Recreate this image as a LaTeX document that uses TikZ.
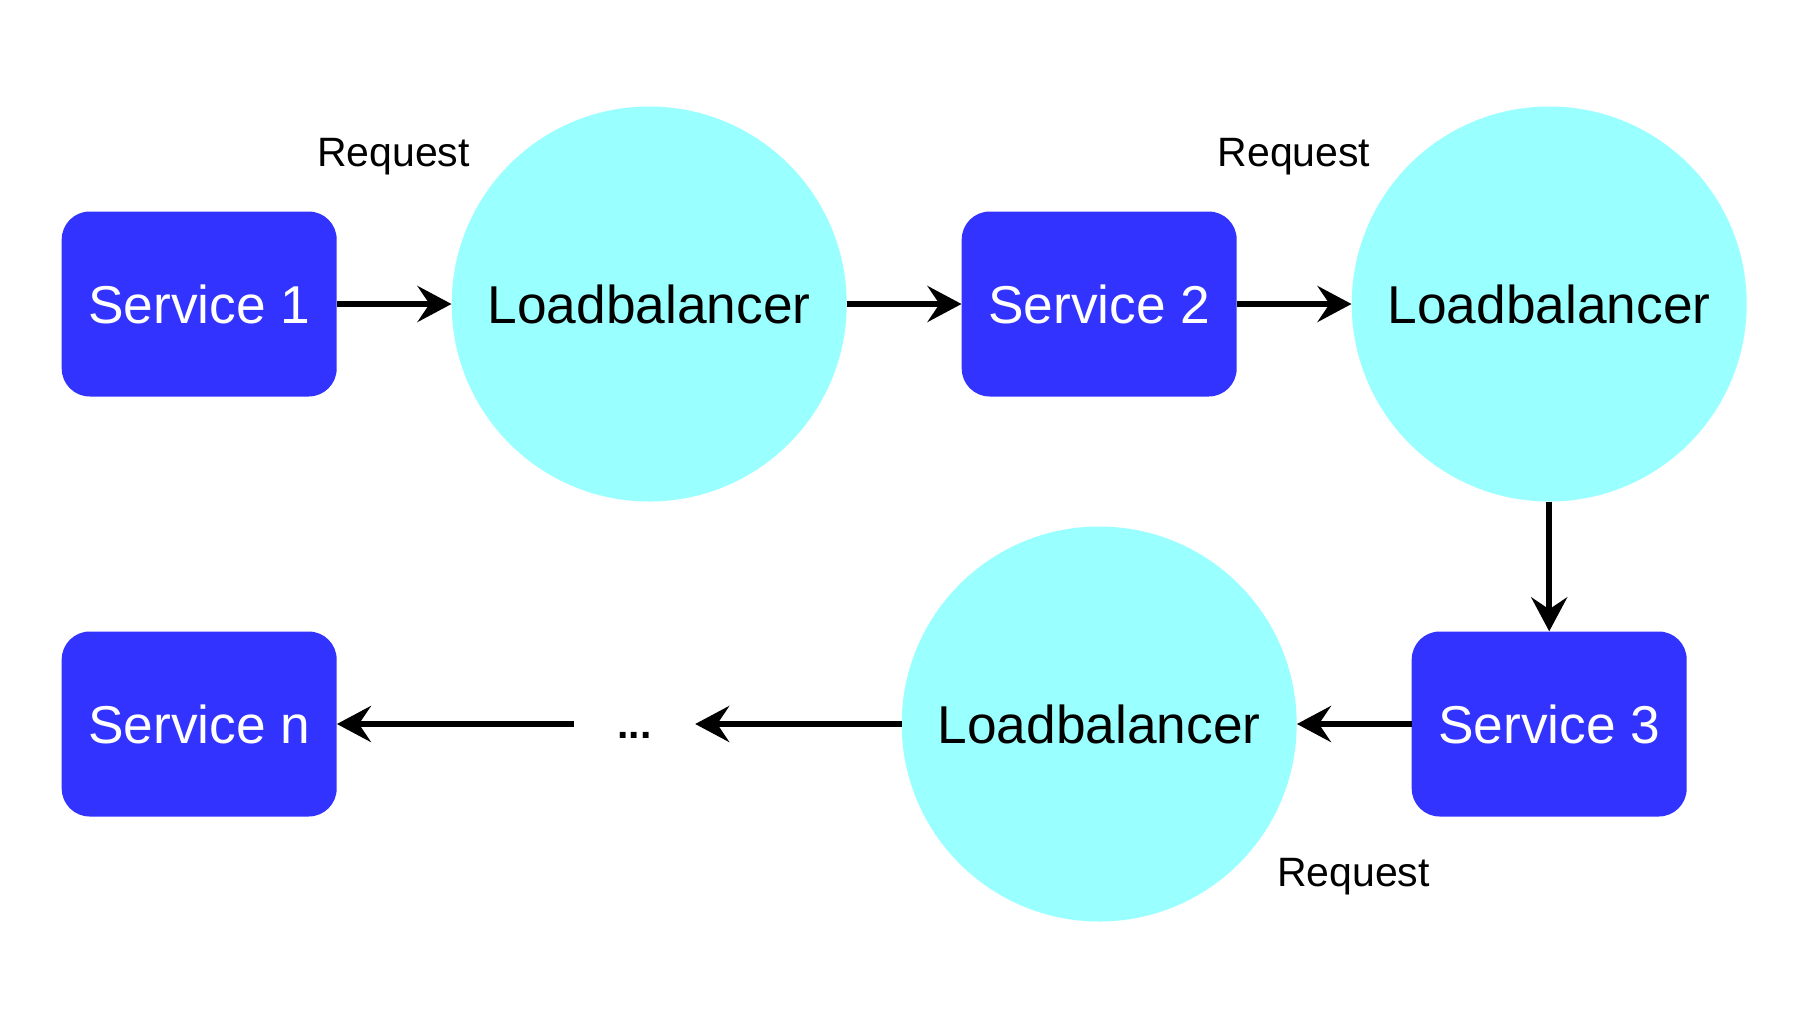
\documentclass[tikz,border=0pt]{standalone}
\usepackage{fontspec}
\setmainfont{Liberation Sans}
\usetikzlibrary{arrows.meta}
\definecolor{svcblue}{HTML}{3333FF}
\definecolor{lbcyan}{HTML}{99FFFF}
\begin{document}
\begin{tikzpicture}[x=1pt,y=-1pt,
  svc/.style={rectangle, rounded corners=28pt, fill=svcblue, text=white, minimum width=275pt, minimum height=185pt, inner sep=0pt, font=\fontsize{53.3}{64}\selectfont},
  lb/.style={circle, fill=lbcyan, minimum size=395pt, inner sep=0pt, font=\fontsize{53.3}{64}\selectfont},
  req/.style={font=\fontsize{41}{49}\selectfont, inner sep=0pt, anchor=base},
  dotsbox/.style={minimum width=121pt, inner sep=0pt, text height=28pt, text depth=0pt, font=\bfseries\fontsize{41}{49}\selectfont},
  flow/.style={line width=5.5pt, -{Stealth[length=34pt,width=36pt,inset=12pt]}}
]
\useasboundingbox (0,0) rectangle (1806,1026);
\node[svc] (s1) at (199.2,304) {Service 1};
\node[lb] (lb1) at (649.2,304) {Loadbalancer};
\node[svc] (s2) at (1099.2,304) {Service 2};
\node[lb] (lb2) at (1549.2,304) {Loadbalancer};
\node[svc] (s3) at (1549.2,724) {Service 3};
\node[lb] (lb3) at (1099.2,724) {Loadbalancer};
\node[dotsbox] (dots) at (634.5,724) {...};
\node[svc] (sn) at (199.2,724) {Service n};

\draw[flow] (s1) -- (lb1);
\draw[flow] (lb1) -- (s2);
\draw[flow] (s2) -- (lb2);
\draw[flow] (lb2) -- (s3);
\draw[flow] (s3) -- (lb3);
\draw[flow] (lb3) -- (dots);
\draw[flow] (dots) -- (sn);

\node[req] (r1) at (393.5,166.7) {Request};
\node[req] (r2) at (1294,166.7) {Request};
\node[req] (r3) at (1353.5,886.7) {Request};
\end{tikzpicture}
\end{document}
